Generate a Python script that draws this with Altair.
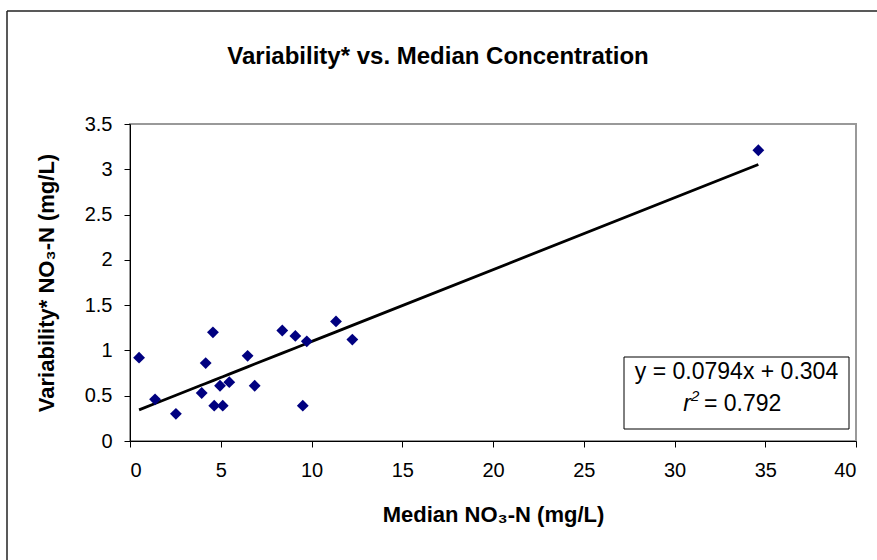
import altair as alt
import pandas as pd

# Data
median_no3 = [0.50, 1.38, 2.53, 3.95, 4.17, 4.57, 4.64, 4.96, 5.11, 5.47,
              6.48, 6.87, 8.39, 9.11, 9.52, 9.74, 11.35, 12.25, 34.62]
variability = [0.92, 0.46, 0.30, 0.53, 0.86, 1.20, 0.39, 0.61, 0.39, 0.65,
               0.94, 0.61, 1.22, 1.16, 0.39, 1.10, 1.32, 1.12, 3.21]
slope = 0.0794
intercept = 0.304
x_ticks = [0, 5, 10, 15, 20, 25, 30, 35, 40]
y_ticks = [0, 0.5, 1, 1.5, 2, 2.5, 3, 3.5]
eq_text = "y = 0.0794x + 0.304"
r_label = "r"
r_sup = "2"
r2_value = "= 0.792"
title_text = "Variability* vs. Median Concentration"

df = pd.DataFrame({"x": median_no3, "y": variability})

W, H = 726, 317
FONT = "Liberation Sans"

xscale = alt.Scale(domain=[0, 40], nice=False)
yscale = alt.Scale(domain=[0, 3.5], nice=False)

base = alt.Chart(df)

points = base.mark_point(shape="diamond", filled=True, color="#000080",
                         size=140, opacity=1).encode(
    x=alt.X("x:Q", scale=xscale,
            axis=alt.Axis(values=x_ticks, title="Median NO₃-N (mg/L)",
                          format="~g", labelPadding=13, titlePadding=24)),
    y=alt.Y("y:Q", scale=yscale,
            axis=alt.Axis(values=y_ticks, title="Variability* NO₃-N (mg/L)",
                          format="~g", labelPadding=12, titlePadding=26)),
)

trend = base.transform_calculate(
    fit=f"{slope} * datum.x + {intercept}"
).mark_line(color="black", strokeWidth=2.8).encode(
    x=alt.X("x:Q", scale=xscale),
    y=alt.Y("fit:Q", scale=yscale),
    order="x:Q",
)

box = alt.Chart(pd.DataFrame({"a": [0]})).mark_rect(
    fill="white", stroke="black", strokeWidth=1
).encode(
    x=alt.value(494), x2=alt.value(719),
    y=alt.value(233), y2=alt.value(305),
)

eq = alt.Chart(pd.DataFrame({"t": [eq_text]})).mark_text(
    font=FONT, fontSize=23, align="center", baseline="alphabetic", color="black"
).encode(text="t:N", x=alt.value(606.5), y=alt.value(255))

r2a = alt.Chart(pd.DataFrame({"t": [r_label]})).mark_text(
    font=FONT, fontSize=23, fontStyle="italic", align="right",
    baseline="alphabetic", color="black"
).encode(text="t:N", x=alt.value(561), y=alt.value(287))

r2s = alt.Chart(pd.DataFrame({"t": [r_sup]})).mark_text(
    font=FONT, fontSize=15, fontStyle="italic", align="left",
    baseline="alphabetic", color="black"
).encode(text="t:N", x=alt.value(561), y=alt.value(277))

r2b = alt.Chart(pd.DataFrame({"t": [r2_value]})).mark_text(
    font=FONT, fontSize=23, align="left", baseline="alphabetic", color="black"
).encode(text="t:N", x=alt.value(574), y=alt.value(287))

title = alt.Chart(pd.DataFrame({"t": [title_text]})).mark_text(
    font=FONT, fontSize=24, fontWeight="bold", align="center",
    baseline="alphabetic", color="black"
).encode(text="t:N", x=alt.value(308), y=alt.value(-60))

frame_top = alt.Chart(pd.DataFrame({"a": [0]})).mark_rule(
    color="#222222", strokeWidth=1.5
).encode(x=alt.value(-123), x2=alt.value(760), y=alt.value(-113))

frame_left = alt.Chart(pd.DataFrame({"a": [0]})).mark_rule(
    color="#222222", strokeWidth=1.5
).encode(x=alt.value(-123), y=alt.value(-113), y2=alt.value(450))

chart = alt.layer(
    frame_top, frame_left, trend, points, box, eq, r2a, r2s, r2b, title
).properties(
    width=W, height=H,
    padding={"left": 130, "top": 124, "right": 21, "bottom": 119},
    autosize=alt.AutoSizeParams(type="none"),
).configure_view(
    stroke="#999999", strokeWidth=2
).configure_axis(
    grid=False, domainColor="black", domainWidth=1, tickColor="black",
    tickSize=6, labelFont=FONT, labelFontSize=20, labelColor="black",
    titleFont=FONT, titleFontSize=22, titleFontWeight="bold",
    titleColor="black",
)

chart.save("out.html", embed_options={"renderer": "svg", "actions": False})
